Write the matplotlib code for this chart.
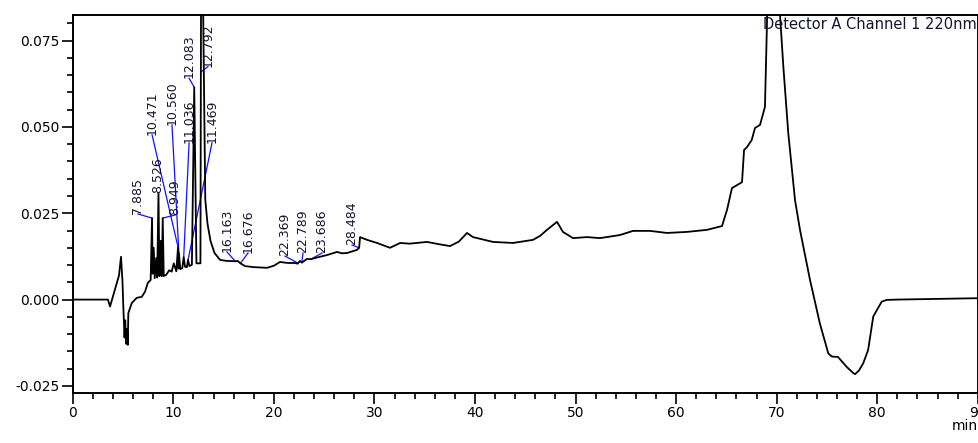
import numpy as np
import matplotlib
matplotlib.use('Agg')
import matplotlib.pyplot as plt
from matplotlib.ticker import MultipleLocator, FormatStrFormatter

# detector trace, retention time (min) vs absorbance (AU)
rt_min = [0.0, 3.5, 3.71, 4.04, 4.38, 4.6, 4.80, 4.95, 5.03, 5.15, 5.22, 5.30, 5.40, 5.47,
          5.53, 5.87, 6.36, 6.86, 7.19, 7.46, 7.75, 7.885, 7.95, 8.05, 8.15, 8.30, 8.40,
          8.526, 8.62, 8.75, 8.85, 8.949, 9.05, 9.30, 9.60, 9.84, 10.05, 10.30, 10.471,
          10.52, 10.560, 10.70, 10.90, 11.036, 11.17, 11.35, 11.469, 11.60, 11.85, 12.083,
          12.30, 12.70, 12.792, 13.18, 13.40, 13.70, 14.10, 14.65, 15.30, 16.163, 16.40,
          16.676, 17.14, 18.0, 19.32, 20.0, 20.61, 21.4, 22.10, 22.369, 22.60, 22.789,
          23.30, 23.686, 24.3, 25.29, 26.28, 26.8, 27.28, 28.27, 28.484, 28.57, 29.27,
          30.26, 31.55, 32.56, 33.5, 35.23, 36.5, 37.52, 38.4, 39.21, 39.81, 41.8, 43.78,
          45.77, 46.5, 47.16, 48.16, 48.75, 49.75, 51.14, 52.44, 54.42, 55.72, 57.41,
          59.1, 61.08, 63.08, 64.57, 65.07, 65.56, 66.56, 66.76, 67.06, 67.52, 67.85,
          68.35, 68.84, 69.04, 69.70, 70.34, 70.67, 71.16, 71.83, 72.33, 73.32, 74.3,
          75.14, 75.5, 76.1, 76.97, 77.63, 77.8, 78.2, 78.62, 79.1, 79.61, 80.45, 80.95,
          81.94, 86.0, 90.0]
signal = [0.0, 0.0, -0.0020, 0.0013, 0.0048, 0.0070, 0.0124, 0.0050, -0.0020, -0.0110,
          -0.0060, -0.0128, -0.0085, -0.0131, -0.0039, -0.0010, 0.0005, 0.0008, 0.0023,
          0.0048, 0.0057, 0.0236, 0.0075, 0.0150, 0.0062, 0.0120, 0.0064, 0.0309, 0.0068,
          0.0170, 0.0068, 0.0236, 0.0068, 0.0072, 0.0085, 0.0081, 0.0105, 0.0082, 0.0152,
          0.0090, 0.0134, 0.0088, 0.0092, 0.0123, 0.0095, 0.0094, 0.0115, 0.0097, 0.0101,
          0.0615, 0.0105, 0.0105, 0.1300, 0.0290, 0.0220, 0.0170, 0.0135, 0.0115, 0.0112,
          0.0111, 0.0112, 0.0105, 0.0097, 0.0094, 0.0092, 0.0098, 0.0109, 0.0106, 0.0106,
          0.0104, 0.0112, 0.0107, 0.0118, 0.0117, 0.0122, 0.0129, 0.0138, 0.0134, 0.0135,
          0.0144, 0.0150, 0.0181, 0.0173, 0.0164, 0.0150, 0.0164, 0.0162, 0.0167, 0.0160,
          0.0155, 0.0168, 0.0193, 0.0181, 0.0167, 0.0164, 0.0173, 0.0185, 0.0202, 0.0225,
          0.0196, 0.0178, 0.0181, 0.0178, 0.0187, 0.0199, 0.0199, 0.0193, 0.0196, 0.0202,
          0.0213, 0.0260, 0.0323, 0.0340, 0.0433, 0.0442, 0.0462, 0.0497, 0.0506, 0.0558,
          0.0800, 0.2500, 0.0824, 0.0674, 0.0482, 0.0288, 0.0201, 0.0057, -0.0069, -0.0156,
          -0.0165, -0.0166, -0.0195, -0.0213, -0.0216, -0.0205, -0.0184, -0.0146, -0.0049,
          -0.0006, -0.0001, 0.0000, 0.0002, 0.0004]

# integrated peaks: retention time, label anchor (time, AU) and leader end height
peak_rt = [7.885, 8.526, 8.949, 10.471, 10.560, 11.036, 11.469, 12.083, 12.792,
           16.163, 16.676, 22.369, 22.789, 23.686, 28.484]
label_t = [6.49, 8.45, 10.17, 7.89, 9.87, 11.57, 13.85, 11.57, 13.45,
           15.34, 17.43, 21.11, 22.90, 24.79, 27.78]
label_v = [0.0248, 0.0309, 0.0245, 0.0477, 0.0506, 0.0454, 0.0454, 0.0641, 0.0675,
           0.0138, 0.0135, 0.0126, 0.0135, 0.0135, 0.0158]
tip_v = [0.0236, 0.0309, 0.0236, 0.0152, 0.0134, 0.0123, 0.0115, 0.0615, 0.0660,
         0.0111, 0.0105, 0.0106, 0.0109, 0.0117, 0.0150]

fig = plt.figure(figsize=(9.79, 4.43), dpi=100)
ax = fig.add_axes([0.0743, 0.1129, 0.9244, 0.8532])

ax.plot(rt_min, signal, color='black', lw=1.3, zorder=3)

for rt, lt, lv, tv in zip(peak_rt, label_t, label_v, tip_v):
    ax.plot([lt, rt], [lv, tv], color='#1010ff', lw=0.9, zorder=2)
    ax.text(lt, lv, f'{rt:.3f}', rotation=90, ha='center', va='bottom',
            fontsize=9, color='#141430', zorder=4)

ax.text(0.999, 0.995, 'Detector A Channel 1 220nm', transform=ax.transAxes,
        ha='right', va='top', fontsize=10.5, color='#141430')

ax.set_xlim(0, 90)
ax.set_ylim(-0.02705, 0.08242)
ax.xaxis.set_major_locator(MultipleLocator(10))
ax.xaxis.set_minor_locator(MultipleLocator(2))
ax.yaxis.set_major_locator(MultipleLocator(0.025))
ax.yaxis.set_minor_locator(MultipleLocator(0.005))
ax.yaxis.set_major_formatter(FormatStrFormatter('%.3f'))
ax.tick_params(which='major', length=8, width=1.2, labelsize=10, pad=1.5)
ax.tick_params(which='minor', length=4, width=1.2)
for sp in ax.spines.values():
    sp.set_linewidth(1.4)

ax.set_xlabel('min', loc='right', fontsize=10, labelpad=-1)

fig.savefig('out.png', dpi=100)
